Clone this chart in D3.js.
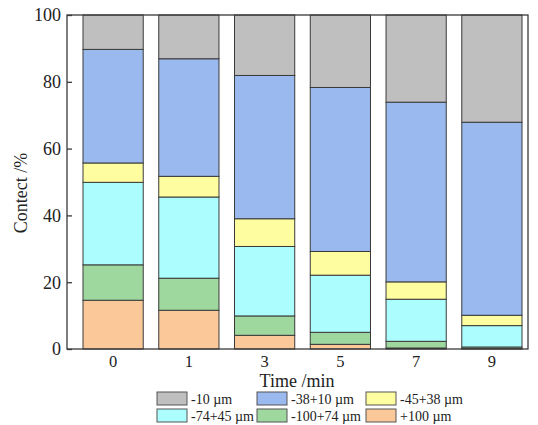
<!DOCTYPE html>
<html>
<head>
<meta charset="utf-8">
<script src="https://cdn.jsdelivr.net/npm/d3@7"></script>
<style>
  body { margin: 0; background: #fff; }
  text { font-family: "Liberation Serif", "DejaVu Serif", serif; fill: #222; }
</style>
</head>
<body>
<div id="chart"></div>
<script>
// categories (time, min)
var times = ["0", "1", "3", "5", "7", "9"];
// size fractions, bottom to top of the stack
var fractions = ["+100 µm", "-100+74 µm", "-74+45 µm", "-45+38 µm", "-38+10 µm", "-10 µm"];
var colors = ["#fbc899", "#9fd89f", "#acfefe", "#fefea0", "#99b9ef", "#bfbfbf"];
// content % per fraction, one value per time
var plus100   = [14.6, 11.6, 4.1, 1.4, 0.3, 0.1];
var m100p74   = [10.6, 9.6, 5.8, 3.6, 2.0, 0.5];
var m74p45    = [24.7, 24.3, 20.8, 17.1, 12.6, 6.4];
var m45p38    = [5.8, 6.2, 8.3, 7.1, 5.2, 3.1];
var m38p10    = [34.0, 35.2, 42.9, 49.1, 53.8, 57.8];
var m10       = [10.3, 13.1, 18.1, 21.7, 26.1, 32.1];
var yTicks = [0, 20, 40, 60, 80, 100];
// legend order as shown in the picture
var legendOrder = ["-10 µm", "-38+10 µm", "-45+38 µm", "-74+45 µm", "-100+74 µm", "+100 µm"];

var series = [plus100, m100p74, m74p45, m45p38, m38p10, m10];
var rows = times.map(function(t, i) {
  var r = { time: t };
  fractions.forEach(function(f, j) { r[f] = series[j][i]; });
  return r;
});

var W = 538, H = 425;
var plotL = 67, plotR = 528, plotT = 15, plotB = 349;

var svg = d3.select("#chart").append("svg").attr("width", W).attr("height", H);

var x = d3.scaleBand().domain(times).range([83, 522]).paddingInner(0.205).paddingOuter(0);
var y = d3.scaleLinear().domain([0, 100]).range([plotB, plotT]);
var color = d3.scaleOrdinal().domain(fractions).range(colors);

var stacked = d3.stack().keys(fractions)(rows);

svg.append("g")
  .selectAll("g")
  .data(stacked)
  .enter().append("g")
    .attr("fill", function(d) { return color(d.key); })
  .selectAll("rect")
  .data(function(d) { return d; })
  .enter().append("rect")
    .attr("x", function(d) { return x(d.data.time); })
    .attr("y", function(d) { return y(d[1]); })
    .attr("width", x.bandwidth())
    .attr("height", function(d) { return y(d[0]) - y(d[1]); })
    .attr("stroke", "#3a3a3a")
    .attr("stroke-width", 1);

// frame
svg.append("rect")
  .attr("x", plotL).attr("y", plotT)
  .attr("width", plotR - plotL).attr("height", plotB - plotT)
  .attr("fill", "none").attr("stroke", "#3a3a3a").attr("stroke-width", 1.3);

// y axis, ticks pointing inward
var yAxis = svg.append("g")
  .attr("transform", "translate(" + plotL + ",0)")
  .call(d3.axisRight(y).tickValues(yTicks).tickSize(5).tickFormat(""));
yAxis.select(".domain").remove();
yAxis.selectAll("line").attr("stroke", "#3a3a3a").attr("stroke-width", 1.3);

svg.append("g").selectAll("text")
  .data(yTicks)
  .enter().append("text")
    .attr("x", plotL - 6)
    .attr("y", function(d) { return y(d); })
    .attr("dy", "0.35em")
    .attr("text-anchor", "end")
    .attr("font-size", 18)
    .text(function(d) { return d; });

// x labels
svg.append("g").selectAll("text")
  .data(times)
  .enter().append("text")
    .attr("x", function(d) { return x(d) + x.bandwidth() / 2; })
    .attr("y", 367)
    .attr("text-anchor", "middle")
    .attr("font-size", 16.5)
    .text(function(d) { return d; });

svg.append("text")
  .attr("x", 297).attr("y", 387)
  .attr("text-anchor", "middle")
  .attr("font-size", 18)
  .text("Time /min");

svg.append("text")
  .attr("transform", "translate(27,193) rotate(-90)")
  .attr("text-anchor", "middle")
  .attr("font-size", 18)
  .text("Contect /%");

// legend
var legX = [157, 257, 366], legY = [392, 409];
var leg = svg.append("g").selectAll("g")
  .data(legendOrder)
  .enter().append("g")
    .attr("transform", function(d, i) {
      return "translate(" + legX[i % 3] + "," + legY[Math.floor(i / 3)] + ")";
    });
leg.append("rect")
  .attr("width", 30).attr("height", 13)
  .attr("fill", function(d) { return color(d); })
  .attr("stroke", "#555").attr("stroke-width", 1);
leg.append("text")
  .attr("x", 34).attr("y", 7)
  .attr("dy", "0.35em")
  .attr("font-size", 14)
  .text(function(d) { return d; });
</script>
</body>
</html>
